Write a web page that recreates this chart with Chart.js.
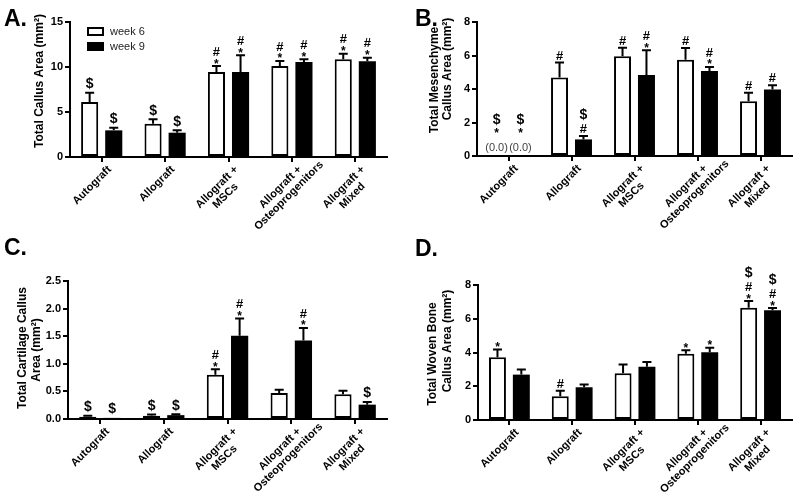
<!DOCTYPE html>
<html>
<head>
<meta charset="utf-8">
<script src="https://cdn.jsdelivr.net/npm/chart.js@4.4.1/dist/chart.umd.min.js"></script>
<style>
  body { margin: 0; background: #fff; }
  .panel { position: absolute; width: 400px; height: 248px; }
  .letter {
    position: absolute;
    font: bold 23px "Liberation Sans", Arial, Helvetica, sans-serif;
    line-height: 23px;
    color: #000;
  }
</style>
</head>
<body>
<div class="panel" style="left:0;top:0"><canvas id="chartA" width="400" height="248"></canvas></div>
<div class="panel" style="left:400px;top:0"><canvas id="chartB" width="400" height="248"></canvas></div>
<div class="panel" style="left:0;top:248px"><canvas id="chartC" width="400" height="248"></canvas></div>
<div class="panel" style="left:400px;top:248px"><canvas id="chartD" width="400" height="248"></canvas></div>
<div class="letter" style="left:4px;top:7px">A.</div>
<div class="letter" style="left:415px;top:7px">B.</div>
<div class="letter" style="left:4px;top:236px">C.</div>
<div class="letter" style="left:415px;top:237px">D.</div>
<script>
const FONT = '"Liberation Sans", Arial, Helvetica, sans-serif';

// Shared categories / series
const groups = ["Autograft", "Allograft", ["Allograft +", "MSCs"], ["Allograft +", "Osteoprogenitors"], ["Allograft +", "Mixed"]];
const seriesNames = ["week 6", "week 9"];

// A. Total callus area (mm²)
const totalWk6 = [6.1, 3.7, 9.45, 10.1, 10.85];
const totalWk9 = [2.96, 2.7, 9.45, 10.56, 10.63];
const totalSem6 = [1.05, 0.5, 0.65, 0.57, 0.63];
const totalSem9 = [0.3, 0.26, 1.85, 0.3, 0.41];
const totalMarks6 = [["$"], ["$"], ["#", "*"], ["#", "*"], ["#", "*"]];
const totalMarks9 = [["$"], ["$"], ["#", "*"], ["#", "*"], ["#", "*"]];
const totalTicks = [0, 5, 10, 15];

// B. Mesenchyme callus area
const mesWk6 = [0, 4.68, 5.95, 5.75, 3.27];
const mesWk9 = [0, 0.99, 4.84, 5.08, 3.97];
const mesSem6 = [0, 0.9, 0.52, 0.7, 0.5];
const mesSem9 = [0, 0.2, 1.47, 0.24, 0.26];
const mesMarks6 = [["$", "*", "(0.0)"], ["#"], ["#"], ["#"], ["#"]];
const mesMarks9 = [["$", "*", "(0.0)"], ["$", "#"], ["#", "*"], ["#", "*"], ["#"]];
const mesTicks = [0, 2, 4, 6, 8];

// C. Cartilage callus area
const cartWk6 = [0.04, 0.06, 0.8, 0.47, 0.45];
const cartWk9 = [0.02, 0.07, 1.51, 1.42, 0.26];
const cartSem6 = [0.02, 0.02, 0.1, 0.06, 0.06];
const cartSem9 = [0, 0.015, 0.31, 0.23, 0.05];
const cartMarks6 = [["$"], ["$"], ["#", "*"], [], []];
const cartMarks9 = [["$"], ["$"], ["#", "*"], ["#", "*"], ["$"]];
const cartTicks = [0, 0.5, 1.0, 1.5, 2.0, 2.5];

// D. Woven bone callus area
const boneWk6 = [3.72, 1.41, 2.77, 3.92, 6.65];
const boneWk9 = [2.69, 1.94, 3.15, 4.02, 6.5];
const boneSem6 = [0.46, 0.33, 0.52, 0.22, 0.4];
const boneSem9 = [0.3, 0.16, 0.28, 0.26, 0.13];
const boneMarks6 = [["*"], ["#"], [], ["*"], ["$", "#", "*"]];
const boneMarks9 = [[], [], [], ["*"], ["$", "#", "*"]];
const boneTicks = [0, 2, 4, 6, 8];

// how each significance mark sits relative to its baseline
const glyphs = {
  "$": { font: "bold 14px", below: 1.5, above: 11, color: "#000" },
  "#": { font: "bold 13px", below: 0, above: 9.5, color: "#000" },
  "*": { font: "bold 12px", below: -4.5, above: 8.8, color: "#000" },
  "(0.0)": { font: "11px", below: 2.5, above: 15, color: "#444" },
};

function makeDeco(cfg) {
  return {
    id: "deco",
    afterDatasetsDraw(chart) {
      const ctx = chart.ctx;
      const ys = chart.scales.y;
      ctx.save();
      ctx.strokeStyle = "#000";
      ctx.lineWidth = 2;
      chart.data.datasets.forEach((ds, d) => {
        chart.getDatasetMeta(d).data.forEach((bar, i) => {
          const s = cfg.sems[d][i];
          if (!s) return;
          const top = ys.getPixelForValue(ds.data[i] + s);
          ctx.beginPath();
          ctx.moveTo(bar.x, bar.y);
          ctx.lineTo(bar.x, top);
          ctx.moveTo(bar.x - 4.5, top);
          ctx.lineTo(bar.x + 4.5, top);
          ctx.stroke();
        });
      });
      ctx.restore();
    },
    afterDraw(chart) {
      const ctx = chart.ctx;
      const ys = chart.scales.y;
      const xs = chart.scales.x;
      const area = chart.chartArea;
      ctx.save();

      // significance marks, stacked upward from the error bar cap
      chart.data.datasets.forEach((ds, d) => {
        chart.getDatasetMeta(d).data.forEach((bar, i) => {
          const stack = cfg.marks[d][i].slice().reverse();
          let cursor = ys.getPixelForValue(ds.data[i] + cfg.sems[d][i]) - 3;
          ctx.textAlign = "center";
          ctx.textBaseline = "alphabetic";
          stack.forEach((m) => {
            const g = glyphs[m];
            const base = cursor - g.below;
            ctx.font = g.font + " " + FONT;
            ctx.fillStyle = g.color;
            ctx.fillText(m, bar.x, base);
            cursor = base - g.above - 3;
          });
        });
      });

      // rotated group labels
      ctx.font = "bold 11px " + FONT;
      ctx.fillStyle = "#000";
      ctx.textAlign = "center";
      ctx.textBaseline = "top";
      chart.data.labels.forEach((lab, i) => {
        const lines = Array.isArray(lab) ? lab : [lab];
        const w1 = ctx.measureText(lines[0]).width;
        ctx.save();
        ctx.translate(xs.getPixelForTick(i) + 4, area.bottom + 7);
        ctx.rotate(-Math.PI / 4);
        lines.forEach((t, j) => ctx.fillText(t, -w1 / 2, j * 12));
        ctx.restore();
      });

      // y axis title
      ctx.font = "bold 12px " + FONT;
      ctx.textBaseline = "middle";
      cfg.titles.forEach((t) => {
        ctx.save();
        ctx.translate(t.x, t.y);
        ctx.rotate(-Math.PI / 2);
        ctx.fillText(t.text, 0, 0);
        ctx.restore();
      });

      // legend (panel A only)
      if (cfg.legend) {
        chart.data.datasets.forEach((ds, d) => {
          const y = 27 + d * 15;
          ctx.fillStyle = ds.backgroundColor;
          ctx.fillRect(87, y, 17, 9);
          ctx.strokeStyle = "#000";
          ctx.lineWidth = 2;
          ctx.strokeRect(88, y + 1, 15, 7);
          ctx.fillStyle = "#222";
          ctx.font = "11px " + FONT;
          ctx.textAlign = "left";
          ctx.textBaseline = "middle";
          ctx.fillText(ds.label, 110, y + 4.5);
        });
      }
      ctx.restore();
    },
  };
}

function makePanel(id, cfg) {
  const a = cfg.area;
  const ticks = cfg.ticks;
  return new Chart(document.getElementById(id), {
    type: "bar",
    data: {
      labels: groups,
      datasets: [
        { label: seriesNames[0], data: cfg.wk6, backgroundColor: "#fff", borderColor: "#000", borderWidth: 2, borderSkipped: false, categoryPercentage: 0.76, barPercentage: 0.71 },
        { label: seriesNames[1], data: cfg.wk9, backgroundColor: "#000", borderColor: "#000", borderWidth: 0, categoryPercentage: 0.76, barPercentage: 0.71 },
      ],
    },
    options: {
      responsive: false,
      animation: false,
      layout: { padding: { top: a.top, right: 400 - a.right, left: 0, bottom: 0 } },
      plugins: { legend: { display: false }, tooltip: { enabled: false } },
      scales: {
        x: {
          grid: { offset: false, drawOnChartArea: false, color: "#000", lineWidth: 2, tickLength: 5 },
          border: { color: "#000", width: 2 },
          ticks: { display: false },
          afterFit: (s) => { s.height = 248 - a.bottom; },
        },
        y: {
          min: ticks[0],
          max: ticks[ticks.length - 1],
          afterBuildTicks: (s) => { s.ticks = ticks.map((v) => ({ value: v })); },
          ticks: {
            color: "#000",
            padding: 2,
            font: { family: FONT, size: 11, weight: "bold" },
            callback: (v) => v.toFixed(cfg.decimals),
          },
          grid: { drawOnChartArea: false, color: "#000", lineWidth: 2, tickLength: 5 },
          border: { color: "#000", width: 2 },
          afterFit: (s) => { s.width = a.left; },
        },
      },
    },
    plugins: [makeDeco(cfg)],
  });
}

makePanel("chartA", {
  wk6: totalWk6, wk9: totalWk9, sems: [totalSem6, totalSem9], marks: [totalMarks6, totalMarks9],
  ticks: totalTicks, decimals: 0,
  area: { left: 70, right: 387, top: 22, bottom: 157 },
  titles: [{ text: "Total Callus Area (mm²)", x: 40, y: 81 }],
  legend: true,
});

makePanel("chartB", {
  wk6: mesWk6, wk9: mesWk9, sems: [mesSem6, mesSem9], marks: [mesMarks6, mesMarks9],
  ticks: mesTicks, decimals: 0,
  area: { left: 77, right: 392, top: 22, bottom: 156 },
  titles: [
    { text: "Total Mesenchyme", x: 35, y: 80 },
    { text: "Callus Area (mm²)", x: 48, y: 69 },
  ],
});

makePanel("chartC", {
  wk6: cartWk6, wk9: cartWk9, sems: [cartSem6, cartSem9], marks: [cartMarks6, cartMarks9],
  ticks: cartTicks, decimals: 1,
  area: { left: 68, right: 387, top: 33, bottom: 171 },
  titles: [
    { text: "Total Cartilage Callus", x: 23, y: 100 },
    { text: "Area (mm²)", x: 37, y: 102 },
  ],
});

makePanel("chartD", {
  wk6: boneWk6, wk9: boneWk9, sems: [boneSem6, boneSem9], marks: [boneMarks6, boneMarks9],
  ticks: boneTicks, decimals: 0,
  area: { left: 78, right: 392, top: 37, bottom: 172 },
  titles: [
    { text: "Total Woven Bone", x: 33, y: 106 },
    { text: "Callus Area (mm²)", x: 48, y: 93 },
  ],
});
</script>
</body>
</html>
